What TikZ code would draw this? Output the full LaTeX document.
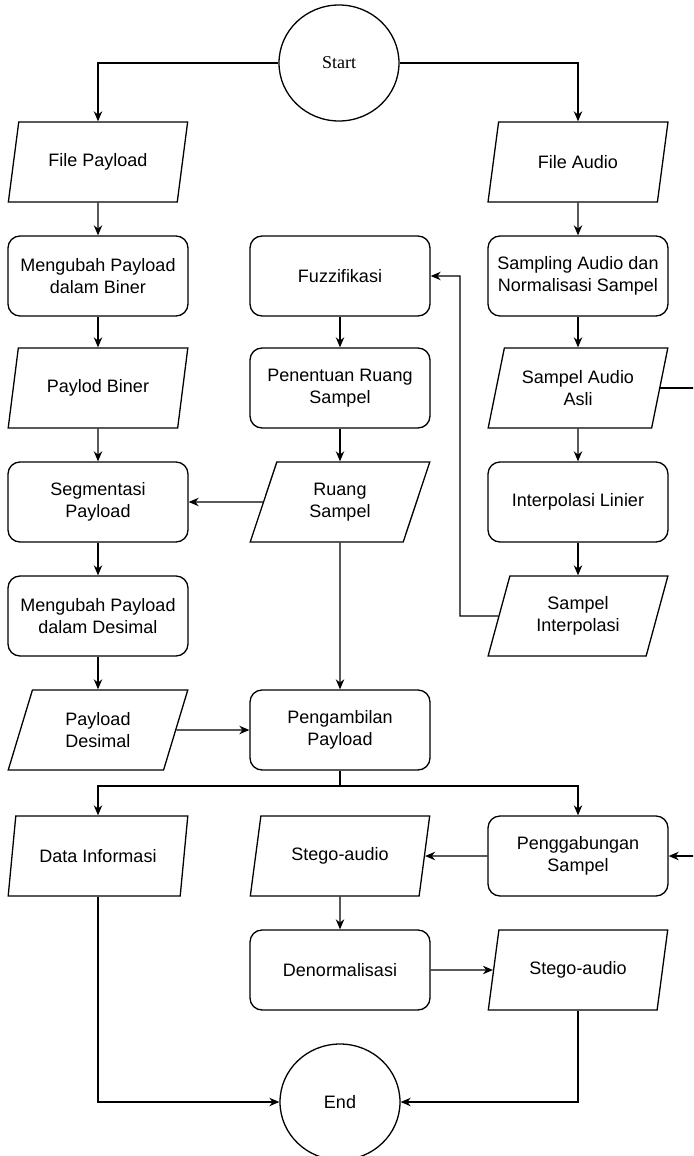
\documentclass[tikz,border=0pt]{standalone}
\usepackage{fontspec}
\setmainfont{Liberation Sans}
\newfontfamily\startfont{Liberation Serif}
\usepackage{tikz}
\usetikzlibrary{arrows.meta, shapes}
\usetikzlibrary{positioning}

\begin{document}
\begin{tikzpicture}[x=0.5pt,y=-0.5pt,
   font=\fontsize{9}{11}\selectfont,
   line width=0.65pt,
   >={Stealth[length=5pt,width=4.2pt,inset=1.6pt]},
   proc/.style={draw,rounded corners=6pt,minimum width=90pt,minimum height=40pt,align=center,inner sep=2pt},
   data/.style={draw,trapezium,trapezium left angle=72,trapezium right angle=108,trapezium stretches=true,minimum width=90pt,minimum height=40pt,align=center,inner sep=1pt},
   term/.style={draw,ellipse,minimum width=60pt,minimum height=58pt}
  ]
 \useasboundingbox (0,0) rectangle (693,1156);
 \clip (0,0) rectangle (693,1156);

 \node[term,font=\fontsize{9}{11}\startfont] (start) at (339,63) {Start};

 % left column
 \node[data] (fpay) at (98,162) {File Payload};
 \node[proc] (biner) at (98,276) {Mengubah Payload\\dalam Biner};
 \node[data] (pbiner) at (98,388) {Paylod Biner};
 \node[proc] (segmen) at (98,502) {Segmentasi\\Payload};
 \node[proc] (desimal) at (98,616) {Mengubah Payload\\dalam Desimal};
 \node[data] (pdesimal) at (98,730) {Payload\\Desimal};
 \node[data] (info) at (98,856) {Data Informasi};

 % middle column
 \node[proc] (fuzzy) at (340,276) {Fuzzifikasi};
 \node[proc] (ruang) at (340,388) {Penentuan Ruang\\Sampel};
 \node[data] (druang) at (340,502) {Ruang\\Sampel};
 \node[proc] (ambil) at (340,730) {Pengambilan\\Payload};
 \node[data] (stego) at (340,856) {Stego-audio};
 \node[proc] (denorm) at (340,970) {Denormalisasi};
 \node[term] (end) at (340,1102) {End};

 % right column
 \node[data] (faudio) at (578,162) {File Audio};
 \node[proc] (sampling) at (578,276) {Sampling Audio dan\\Normalisasi Sampel};
 \node[data] (asli) at (578,388) {Sampel Audio\\Asli};
 \node[proc] (linier) at (578,502) {Interpolasi Linier};
 \node[data] (sinterp) at (578,616) {Sampel\\Interpolasi};
 \node[proc] (gabung) at (578,856) {Penggabungan\\Sampel};
 \node[data] (stego2) at (578,970) {Stego-audio};

 \coordinate (split) at (340,786);
 \coordinate (bendF) at (460,0);
 \coordinate (bendR) at (720,0);

 \draw[->] (start) -| (fpay);
 \draw[->] (start) -| (faudio);

 \draw[->] (fpay) -- (biner);
 \draw[->] (biner) -- (pbiner);
 \draw[->] (pbiner) -- (segmen);
 \draw[->] (segmen) -- (desimal);
 \draw[->] (desimal) -- (pdesimal);
 \draw[->] (pdesimal) -- (ambil);

 \draw[->] (fuzzy) -- (ruang);
 \draw[->] (ruang) -- (druang);
 \draw[->] (druang) -- (segmen);
 \draw[->] (druang) -- (ambil);

 \draw[->] (faudio) -- (sampling);
 \draw[->] (sampling) -- (asli);
 \draw[->] (asli) -- (linier);
 \draw[->] (linier) -- (sinterp);
 \draw[->] (sinterp) -- (sinterp -| bendF) |- (fuzzy);
 \draw[->] (asli) -- (asli -| bendR) |- (gabung);

 \draw (ambil) -- (split);
 \draw[->] (split) -| (info);
 \draw[->] (split) -| (gabung);
 \draw[->] (gabung) -- (stego);
 \draw[->] (stego) -- (denorm);
 \draw[->] (denorm) -- (stego2);
 \draw[->] (info) |- (end);
 \draw[->] (stego2) |- (end);

\end{tikzpicture}
\end{document}
